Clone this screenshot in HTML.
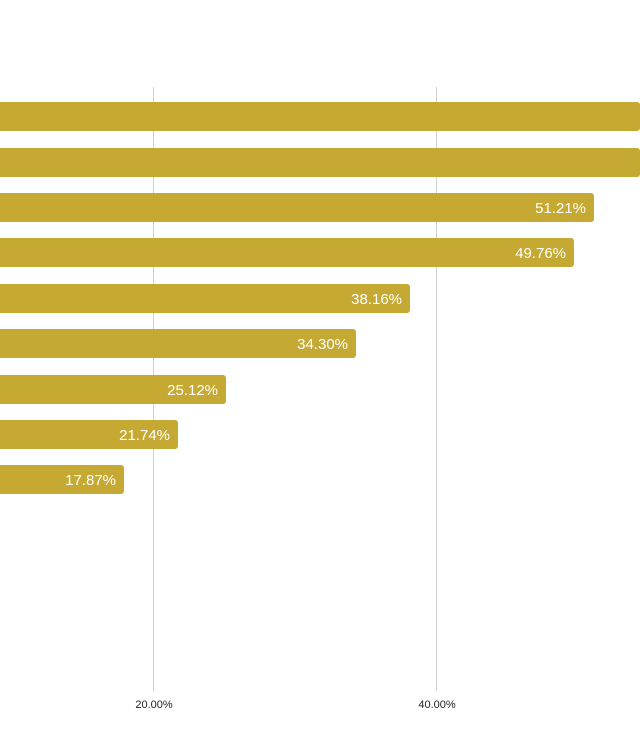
<!DOCTYPE html><html><head><style>
body{margin:0;width:640px;height:750px;background:#fff;position:relative;overflow:hidden;font-family:"Liberation Sans",sans-serif}
.g{position:absolute;top:87px;height:604px;width:1px;background:#d0d0d0}
.b{position:absolute;left:0;height:29px;background:#c5a932;border-radius:0 3px 3px 0;color:#fff;font-size:15px;line-height:31px;text-align:right;box-sizing:border-box;padding-right:8px}
.t{position:absolute;top:699px;font-size:11px;color:#222;width:80px;text-align:center}
</style></head><body>
<div class="g" style="left:153px"></div><div class="g" style="left:436px"></div>
<div class="b" style="top:102px;width:640px"></div>
<div class="b" style="top:148px;width:640px"></div>
<div class="b" style="top:193px;width:594px">51.21%</div>
<div class="b" style="top:238px;width:574px">49.76%</div>
<div class="b" style="top:284px;width:410px">38.16%</div>
<div class="b" style="top:329px;width:356px">34.30%</div>
<div class="b" style="top:375px;width:226px">25.12%</div>
<div class="b" style="top:420px;width:178px">21.74%</div>
<div class="b" style="top:465px;width:124px">17.87%</div>
<div class="t" style="left:114px">20.00%</div>
<div class="t" style="left:397px">40.00%</div>
</body></html>
